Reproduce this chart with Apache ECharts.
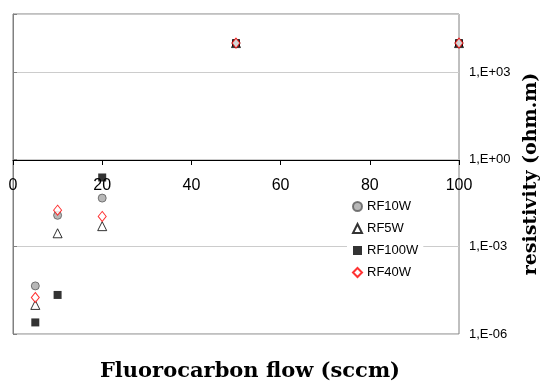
<!DOCTYPE html>
<html>
<head>
<meta charset="utf-8">
<script src="https://cdn.jsdelivr.net/npm/echarts@6/dist/echarts.min.js"></script>
<style>
html,body{margin:0;padding:0;background:#fff;}
#chart{width:550px;height:385px;}
</style>
</head>
<body>
<div id="chart"></div>
<script>
// Data
var flow = [5, 10, 20, 50, 100];
var rf10w = [4.5e-5, 0.012, 0.047, 1.0e4, 1.0e4];
var rf5w = [1.0e-5, 0.0029, 0.0051, 1.0e4, 1.0e4];
var rf100w = [2.5e-6, 2.2e-5, 0.24, 1.0e4, 1.0e4];
var rf40w = [1.8e-5, 0.018, 0.011, 1.0e4, 1.0e4];
var seriesNames = ['RF10W', 'RF5W', 'RF100W', 'RF40W'];
var xTicks = [0, 20, 40, 60, 80, 100];
var yTickLabels = ['1,E-06', '1,E-03', '1,E+00', '1,E+03'];

function pairs(ys) { return flow.map(function (x, i) { return [x, ys[i]]; }); }

function yLabel(v) {
  var e = Math.round(Math.log10(v));
  if (e % 3 !== 0) return '';
  var s = '1,E' + (e < 0 ? '-' : '+') + (Math.abs(e) < 10 ? '0' : '') + Math.abs(e);
  return yTickLabels.indexOf(s) >= 0 ? s : '';
}

var chart = echarts.init(document.getElementById('chart'), null, {renderer: 'canvas'});
var sans = 'Liberation Sans, Arial, sans-serif';
var serif = 'DejaVu Serif, serif';
chart.setOption({
  animation: false,
  backgroundColor: '#fff',
  title: {
    text: 'Fluorocarbon flow (sccm)', left: 250, textAlign: 'center', top: 361, padding: 0,
    textStyle: {fontFamily: serif, fontWeight: 'bold', fontSize: 21, color: '#000'}
  },
  grid: [
    {left: 13, right: 91, top: 14, bottom: 51, show: true, borderColor: '#808080', borderWidth: 1, backgroundColor: 'transparent'},
    {left: 13, right: 91, top: 14, bottom: 225, show: false}
  ],
  xAxis: [
    {type: 'value', gridIndex: 0, min: 0, max: 100,
     axisLine: {show: false}, axisTick: {show: false}, axisLabel: {show: false}, splitLine: {show: false}},
    {type: 'value', gridIndex: 1, min: xTicks[0], max: xTicks[xTicks.length - 1], interval: 20,
     axisLine: {show: true, onZero: false, lineStyle: {color: '#000', width: 1}},
     axisTick: {show: true, length: 5, lineStyle: {color: '#000'}},
     axisLabel: {fontFamily: sans, fontSize: 16, color: '#000', margin: 18},
     splitLine: {show: false}}
  ],
  yAxis: [
    {type: 'log', logBase: 1000, gridIndex: 0, position: 'right', min: 1e-6, max: 1e5,
     axisLine: {show: true, lineStyle: {color: '#808080', width: 1}},
     axisTick: {show: true, length: 4, lineStyle: {color: '#808080'}},
     axisLabel: {fontFamily: sans, fontSize: 13, color: '#000', margin: 10, formatter: yLabel},
     splitLine: {show: true, lineStyle: {color: '#cccccc', width: 1}},
     minorTick: {show: false}, minorSplitLine: {show: false},
     name: 'resistivity (ohm.m)', nameLocation: 'middle', nameGap: 63, nameRotate: 90,
     nameTextStyle: {fontFamily: serif, fontWeight: 'bold', fontSize: 19, color: '#000'}},
    {type: 'value', gridIndex: 1, show: false, min: 0, max: 1}
  ],
  legend: {
    orient: 'vertical', left: 347, top: 195, padding: 5, itemGap: 9,
    itemWidth: 9, itemHeight: 9, backgroundColor: '#fff',
    textStyle: {fontFamily: sans, fontSize: 13, color: '#000'},
    data: seriesNames
  },
  series: [
    {name: seriesNames[0], type: 'scatter', xAxisIndex: 0, yAxisIndex: 0, data: pairs(rf10w),
     symbol: 'circle', symbolSize: 8, itemStyle: {color: '#a6a6a6', borderColor: '#5a5a5a', borderWidth: 1}},
    {name: seriesNames[1], type: 'scatter', xAxisIndex: 0, yAxisIndex: 0, data: pairs(rf5w),
     symbol: 'triangle', symbolSize: 9, itemStyle: {color: '#fff', borderColor: '#000', borderWidth: 1}},
    {name: seriesNames[2], type: 'scatter', xAxisIndex: 0, yAxisIndex: 0, data: pairs(rf100w),
     symbol: 'rect', symbolSize: 8, itemStyle: {color: '#000', borderColor: '#000', borderWidth: 0}},
    {name: seriesNames[3], type: 'scatter', xAxisIndex: 0, yAxisIndex: 0, data: pairs(rf40w),
     symbol: 'diamond', symbolSize: [8, 10], itemStyle: {color: '#fff', borderColor: '#ff0000', borderWidth: 1}}
  ]
});
</script>
</body>
</html>
